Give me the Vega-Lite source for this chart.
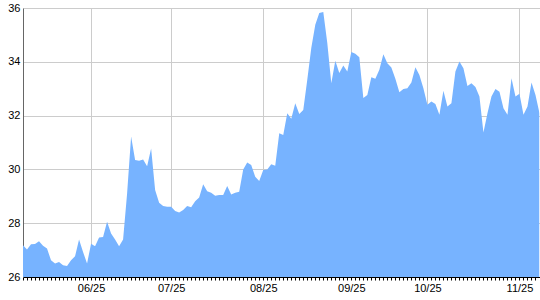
{
  "$schema": "https://vega.github.io/schema/vega-lite/v6.json",
  "autosize": "none",
  "width": 516.5,
  "height": 269,
  "padding": {"left": 23, "top": 8, "right": 0, "bottom": 23},
  "background": "white",
  "config": {"view": {"stroke": null}, "font": "Liberation Sans"},
  "data": {"values": [
    {"i":0,"v":27.18},{"i":1,"v":27.02},{"i":2,"v":27.22},{"i":3,"v":27.23},{"i":4,"v":27.33},
    {"i":5,"v":27.16},{"i":6,"v":27.06},{"i":7,"v":26.62},{"i":8,"v":26.5},{"i":9,"v":26.56},
    {"i":10,"v":26.44},{"i":11,"v":26.41},{"i":12,"v":26.62},{"i":13,"v":26.77},{"i":14,"v":27.39},
    {"i":15,"v":26.93},{"i":16,"v":26.5},{"i":17,"v":27.24},{"i":18,"v":27.14},{"i":19,"v":27.47},
    {"i":20,"v":27.49},{"i":21,"v":28.05},{"i":22,"v":27.62},{"i":23,"v":27.39},{"i":24,"v":27.14},
    {"i":25,"v":27.39},{"i":26,"v":29.1},{"i":27,"v":31.22},{"i":28,"v":30.35},{"i":29,"v":30.32},
    {"i":30,"v":30.37},{"i":31,"v":30.12},{"i":32,"v":30.78},{"i":33,"v":29.23},{"i":34,"v":28.76},
    {"i":35,"v":28.64},{"i":36,"v":28.61},{"i":37,"v":28.61},{"i":38,"v":28.45},{"i":39,"v":28.4},
    {"i":40,"v":28.49},{"i":41,"v":28.64},{"i":42,"v":28.59},{"i":43,"v":28.82},{"i":44,"v":28.96},
    {"i":45,"v":29.45},{"i":46,"v":29.19},{"i":47,"v":29.13},{"i":48,"v":29.02},{"i":49,"v":29.05},
    {"i":50,"v":29.05},{"i":51,"v":29.38},{"i":52,"v":29.07},{"i":53,"v":29.13},{"i":54,"v":29.17},
    {"i":55,"v":30.0},{"i":56,"v":30.26},{"i":57,"v":30.16},{"i":58,"v":29.73},{"i":59,"v":29.57},
    {"i":60,"v":29.98},{"i":61,"v":30.0},{"i":62,"v":30.19},{"i":63,"v":30.14},{"i":64,"v":31.34},
    {"i":65,"v":31.28},{"i":66,"v":32.09},{"i":67,"v":31.88},{"i":68,"v":32.46},{"i":69,"v":32.06},
    {"i":70,"v":32.21},{"i":71,"v":33.33},{"i":72,"v":34.51},{"i":73,"v":35.38},{"i":74,"v":35.81},
    {"i":75,"v":35.85},{"i":76,"v":34.7},{"i":77,"v":33.2},{"i":78,"v":34.04},{"i":79,"v":33.58},
    {"i":80,"v":33.86},{"i":81,"v":33.64},{"i":82,"v":34.36},{"i":83,"v":34.3},{"i":84,"v":34.17},
    {"i":85,"v":32.65},{"i":86,"v":32.77},{"i":87,"v":33.43},{"i":88,"v":33.37},{"i":89,"v":33.7},
    {"i":90,"v":34.28},{"i":91,"v":33.95},{"i":92,"v":33.79},{"i":93,"v":33.37},{"i":94,"v":32.87},
    {"i":95,"v":32.99},{"i":96,"v":33.02},{"i":97,"v":33.23},{"i":98,"v":33.8},{"i":99,"v":33.51},
    {"i":100,"v":33.02},{"i":101,"v":32.4},{"i":102,"v":32.52},{"i":103,"v":32.43},{"i":104,"v":32.03},
    {"i":105,"v":32.92},{"i":106,"v":32.34},{"i":107,"v":32.46},{"i":108,"v":33.64},{"i":109,"v":34.01},
    {"i":110,"v":33.76},{"i":111,"v":33.1},{"i":112,"v":33.2},{"i":113,"v":33.06},{"i":114,"v":32.71},
    {"i":115,"v":31.37},{"i":116,"v":32.09},{"i":117,"v":32.71},{"i":118,"v":32.99},{"i":119,"v":32.89},
    {"i":120,"v":32.27},{"i":121,"v":32.03},{"i":122,"v":33.39},{"i":123,"v":32.71},{"i":124,"v":32.81},
    {"i":125,"v":32.03},{"i":126,"v":32.34},{"i":127,"v":33.23},{"i":128,"v":32.77},{"i":129,"v":32.09}
  ]},
  "mark": {"type": "area", "color": "#77b3ff", "opacity": 1, "interpolate": "linear", "clip": true},
  "encoding": {
    "x": {
      "field": "i", "type": "quantitative", "title": null,
      "scale": {"domain": [0, 129], "nice": false, "zero": false},
      "axis": {
        "values": [0,1,2,3,4,5,6,7,8,9,10,11,12,13,14,15,16,17,18,19,20,21,22,23,24,25,26,27,28,29,30,31,32,33,34,35,36,37,38,39,40,41,42,43,44,45,46,47,48,49,50,51,52,53,54,55,56,57,58,59,60,61,62,63,64,65,66,67,68,69,70,71,72,73,74,75,76,77,78,79,80,81,82,83,84,85,86,87,88,89,90,91,92,93,94,95,96,97,98,99,100,101,102,103,104,105,106,107,108,109,110,111,112,113,114,115,116,117,118,119,120,121,122,123,124,125,126,127,128,129],
        "labelExpr": "datum.value == 17 ? '06/25' : datum.value == 37 ? '07/25' : datum.value == 60 ? '08/25' : datum.value == 82 ? '09/25' : datum.value == 101 ? '10/25' : datum.value == 124 ? '11/25' : ''",
        "labelOverlap": false,
        "labelFlush": false,
        "labelBound": false,
        "labelFontSize": 11,
        "labelColor": "#000",
        "labelPadding": 2,
        "tickSize": 3,
        "tickColor": "#000",
        "domainColor": "#000",
        "grid": true,
        "gridColor": "#cccccc",
        "gridOpacity": {"condition": {"test": "indexof([17,37,60,82,101,124], datum.value) >= 0", "value": 1}, "value": 0}
      }
    },
    "y": {
      "field": "v", "type": "quantitative", "title": null,
      "scale": {"domain": [26, 36], "nice": false, "zero": false},
      "axis": {
        "values": [26, 28, 30, 32, 34, 36],
        "labelFontSize": 11,
        "labelColor": "#000",
        "labelPadding": 3,
        "tickSize": 0,
        "domainColor": "#666",
        "grid": true,
        "gridColor": "#cccccc"
      }
    }
  }
}
